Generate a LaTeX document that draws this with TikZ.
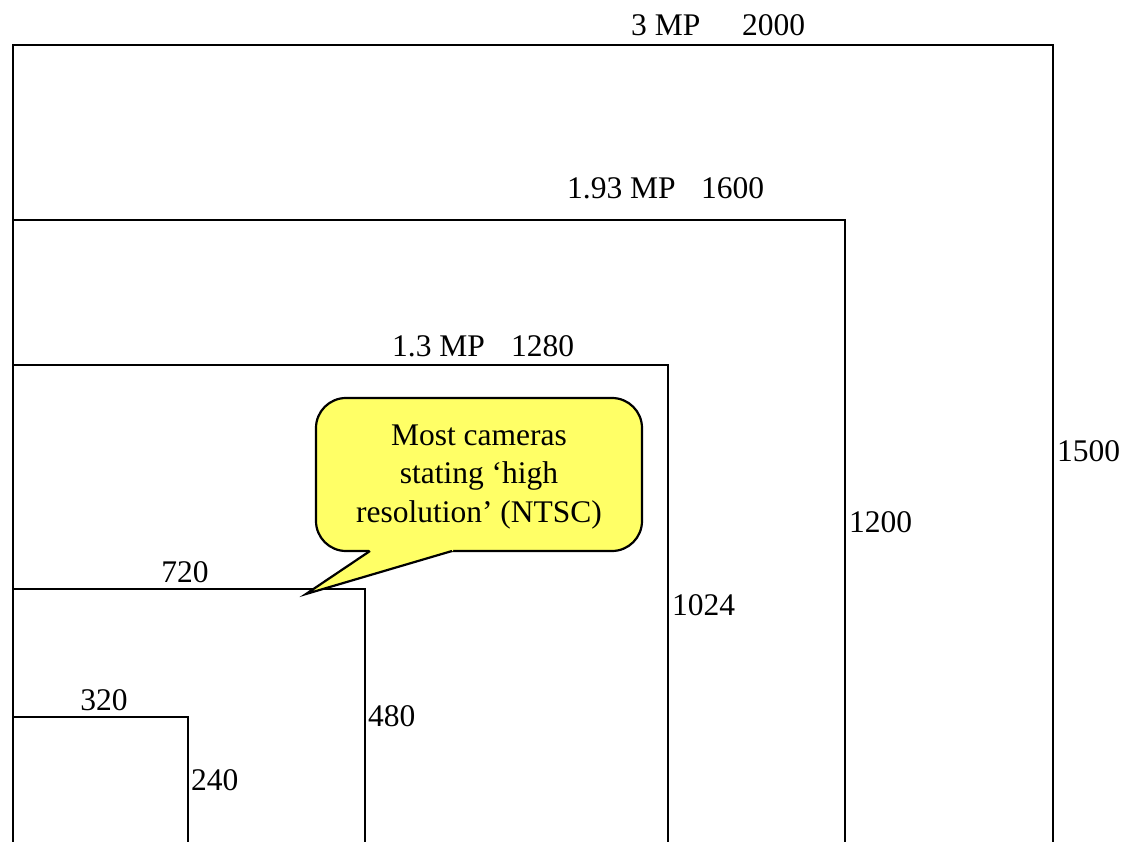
\documentclass[tikz,border=0pt]{standalone}
\usepackage{fontspec}
\setmainfont{Liberation Serif}
\definecolor{callyellow}{HTML}{FFFF66}
\begin{document}
\begin{tikzpicture}[x=1pt,y=-1pt,
  frame/.style={line width=2.9pt,line join=miter},
  lbl/.style={inner sep=0pt,font=\fontsize{31.5}{38.5}\selectfont},
  bubble/.style={draw=black,line width=2.2pt,fill=callyellow}]
\useasboundingbox (0,0) rectangle (1125,842);
% frames, open at the bottom edge
\draw[frame] (13,842) -- (13,45) -- (1053,45) -- (1053,842);
\draw[frame] (13,842) -- (13,220) -- (845,220) -- (845,842);
\draw[frame] (13,842) -- (13,365) -- (668,365) -- (668,842);
\draw[frame] (13,842) -- (13,589) -- (365,589) -- (365,842);
\draw[frame] (13,842) -- (13,717) -- (188,717) -- (188,842);
% top labels
\node[lbl,anchor=base west] (t3) at (631,36) {3 MP};
\node[lbl,anchor=base west] (t2000) at (742,36) {2000};
\node[lbl,anchor=base west] (t193) at (567,199) {1.93 MP};
\node[lbl,anchor=base west] (t1600) at (701,199) {1600};
\node[lbl,anchor=base west] (t13) at (392,357) {1.3 MP};
\node[lbl,anchor=base west] (t1280) at (511,357) {1280};
\node[lbl,anchor=base] (t720) at (185,582) {720};
\node[lbl,anchor=base] (t320) at (104,710) {320};
% side labels
\node[lbl,anchor=base west] (s1500) at (1057,461) {1500};
\node[lbl,anchor=base west] (s1200) at (849,532) {1200};
\node[lbl,anchor=base west] (s1024) at (672,615) {1024};
\node[lbl,anchor=base west] (s480) at (368,726) {480};
\node[lbl,anchor=base west] (s240) at (191,790) {240};
% callout
\draw[bubble,rounded corners=30] (316,398) rectangle (642,551);
\fill[callyellow] (369,548) -- (453,548) -- (453,551) -- (306,594) -- (369,551) -- cycle;
\draw[line width=2.2pt,line join=miter] (370,551) -- (306,594) -- (452,551);
\node[lbl,align=center,anchor=base] (callout) at (479,522)
  {Most cameras\\stating ‘high\\resolution’ (NTSC)};
\end{tikzpicture}
\end{document}
